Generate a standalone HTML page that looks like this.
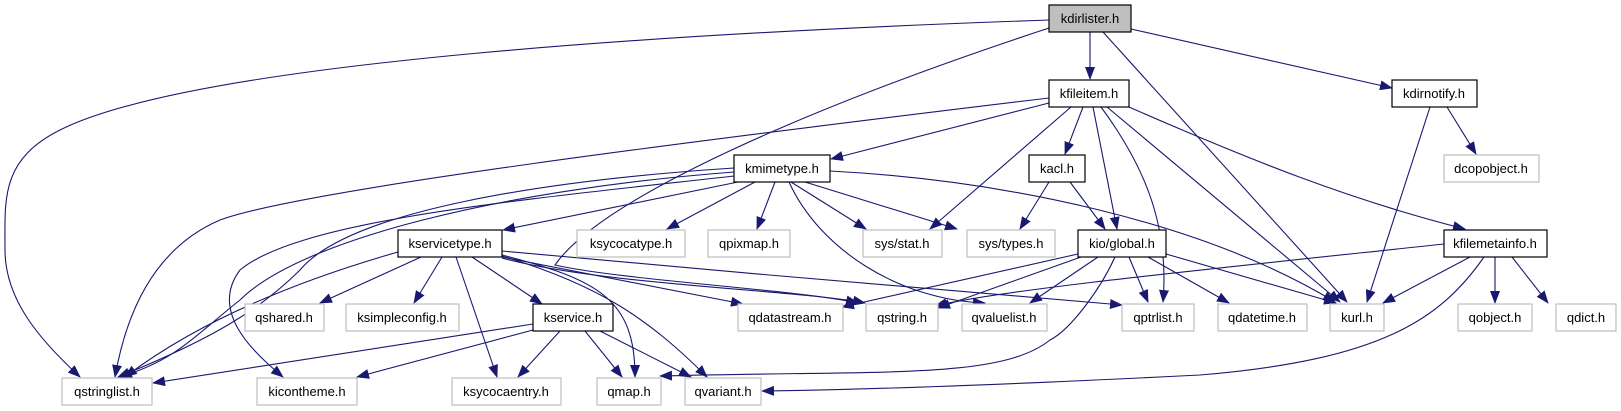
<!DOCTYPE html>
<html><head><meta charset="utf-8"><style>
html,body{margin:0;padding:0;background:#fff;}
svg{display:block;}
text{font-family:"Liberation Sans",sans-serif;font-size:13px;text-anchor:middle;fill:#000;}
.n{fill:#fff;stroke:#000;stroke-width:1.2;}
.g{fill:#fff;stroke:#bfbfbf;stroke-width:1.2;}
.e{fill:none;stroke:#191970;stroke-width:1.1;marker-end:url(#a);}
</style></head><body>
<svg width="1621" height="411" viewBox="0 0 1621 411" xmlns="http://www.w3.org/2000/svg">
<defs><marker id="a" markerWidth="13" markerHeight="10" refX="12" refY="5" orient="auto" markerUnits="userSpaceOnUse"><path d="M0,0 L13,5 L0,10 z" fill="#191970"/></marker></defs>
<g>
<path class="e" d="M1049,20 C700,32 200,60 60,130 C0,160 5,200 5,250 C5,300 40,340 80,377"/>
<path class="e" d="M1049,28 C800,110 600,200 555,265 C620,280 800,290 858,303"/>
<path class="e" d="M1090,32 L1090,79"/>
<path class="e" d="M1103,32 L1347,302"/>
<path class="e" d="M1131,29 L1392,88"/>
<path class="e" d="M1049,98 C700,140 300,190 220,220 C150,250 125,320 115,377"/>
<path class="e" d="M1049,103 L831,159"/>
<path class="e" d="M1071,107 L930,229"/>
<path class="e" d="M1083,107 L1065,154"/>
<path class="e" d="M1093,107 L1117,229"/>
<path class="e" d="M1101,107 C1140,160 1170,220 1163,302"/>
<path class="e" d="M1107,107 L1340,302"/>
<path class="e" d="M1129,107 C1250,160 1350,200 1465,229"/>
<path class="e" d="M1430,107 L1367,302"/>
<path class="e" d="M1447,107 L1476,154"/>
<path class="e" d="M734,172 C500,190 300,240 240,300 C190,340 175,360 120,377"/>
<path class="e" d="M734,168 C550,180 350,210 300,270 C260,310 210,340 118,377"/>
<path class="e" d="M734,176 C520,200 300,220 240,270 C210,310 250,350 283,377"/>
<path class="e" d="M738,182 L503,230"/>
<path class="e" d="M755,182 L667,229"/>
<path class="e" d="M775,182 L757,229"/>
<path class="e" d="M791,182 L866,229"/>
<path class="e" d="M805,182 L957,229"/>
<path class="e" d="M789,182 C820,250 900,300 985,303"/>
<path class="e" d="M830,171 C1000,180 1200,220 1335,302"/>
<path class="e" d="M1049,182 L1020,229"/>
<path class="e" d="M1070,182 L1105,229"/>
<path class="e" d="M398,252 C300,280 200,320 125,377"/>
<path class="e" d="M421,257 L320,303"/>
<path class="e" d="M442,257 L414,303"/>
<path class="e" d="M456,257 L497,377"/>
<path class="e" d="M472,257 L542,304"/>
<path class="e" d="M502,257 L743,304"/>
<path class="e" d="M502,258 C600,285 800,290 865,303"/>
<path class="e" d="M502,251 C700,270 950,290 1122,305"/>
<path class="e" d="M502,255 C600,280 635,300 635,377"/>
<path class="e" d="M502,256 C600,285 650,320 707,377"/>
<path class="e" d="M1078,254 L842,307"/>
<path class="e" d="M1081,257 L938,308"/>
<path class="e" d="M1098,257 L1030,303"/>
<path class="e" d="M1115,257 C1100,290 1070,330 1050,340 C1000,380 880,370 660,376"/>
<path class="e" d="M1129,257 L1148,302"/>
<path class="e" d="M1148,257 L1229,303"/>
<path class="e" d="M1166,254 L1336,303"/>
<path class="e" d="M1444,244 C1200,270 1000,290 935,306"/>
<path class="e" d="M1470,257 L1383,303"/>
<path class="e" d="M1495,257 L1495,303"/>
<path class="e" d="M1512,257 L1548,303"/>
<path class="e" d="M1484,257 C1440,320 1380,360 1200,375 C1000,385 850,390 762,391"/>
<path class="e" d="M533,324 L153,383"/>
<path class="e" d="M533,330 L357,377"/>
<path class="e" d="M560,331 L518,377"/>
<path class="e" d="M585,331 L622,377"/>
<path class="e" d="M600,331 L691,377"/>
</g>
<rect x="1049" y="5" width="82" height="27" fill="#bfbfbf" stroke="#000" stroke-width="1.2"/><text x="1090" y="23">kdirlister.h</text>
<rect class="n" x="1049" y="80" width="80" height="27"/><text x="1089" y="98">kfileitem.h</text>
<rect class="n" x="1392" y="80" width="85" height="27"/><text x="1434" y="98">kdirnotify.h</text>
<rect class="n" x="734" y="155" width="96" height="27"/><text x="782" y="173">kmimetype.h</text>
<rect class="n" x="1029" y="155" width="56" height="27"/><text x="1057" y="173">kacl.h</text>
<rect class="g" x="1444" y="155" width="95" height="27"/><text x="1491" y="173">dcopobject.h</text>
<rect class="n" x="398" y="230" width="104" height="27"/><text x="450" y="248">kservicetype.h</text>
<rect class="g" x="577" y="230" width="108" height="27"/><text x="631" y="248">ksycocatype.h</text>
<rect class="g" x="708" y="230" width="82" height="27"/><text x="749" y="248">qpixmap.h</text>
<rect class="g" x="863" y="230" width="79" height="27"/><text x="902" y="248">sys/stat.h</text>
<rect class="g" x="967" y="230" width="88" height="27"/><text x="1011" y="248">sys/types.h</text>
<rect class="n" x="1078" y="230" width="88" height="27"/><text x="1122" y="248">kio/global.h</text>
<rect class="n" x="1444" y="230" width="103" height="27"/><text x="1495" y="248">kfilemetainfo.h</text>
<rect class="g" x="245" y="304" width="79" height="27"/><text x="284" y="322">qshared.h</text>
<rect class="g" x="346" y="304" width="113" height="27"/><text x="402" y="322">ksimpleconfig.h</text>
<rect class="n" x="533" y="304" width="80" height="27"/><text x="573" y="322">kservice.h</text>
<rect class="g" x="738" y="304" width="105" height="27"/><text x="790" y="322">qdatastream.h</text>
<rect class="g" x="866" y="304" width="72" height="27"/><text x="902" y="322">qstring.h</text>
<rect class="g" x="962" y="304" width="85" height="27"/><text x="1004" y="322">qvaluelist.h</text>
<rect class="g" x="1122" y="304" width="72" height="27"/><text x="1158" y="322">qptrlist.h</text>
<rect class="g" x="1218" y="304" width="89" height="27"/><text x="1262" y="322">qdatetime.h</text>
<rect class="g" x="1330" y="304" width="54" height="27"/><text x="1357" y="322">kurl.h</text>
<rect class="g" x="1458" y="304" width="74" height="27"/><text x="1495" y="322">qobject.h</text>
<rect class="g" x="1556" y="304" width="60" height="27"/><text x="1586" y="322">qdict.h</text>
<rect class="g" x="62" y="378" width="90" height="27"/><text x="107" y="396">qstringlist.h</text>
<rect class="g" x="257" y="378" width="100" height="27"/><text x="307" y="396">kicontheme.h</text>
<rect class="g" x="452" y="378" width="109" height="27"/><text x="506" y="396">ksycocaentry.h</text>
<rect class="g" x="597" y="378" width="64" height="27"/><text x="629" y="396">qmap.h</text>
<rect class="g" x="685" y="378" width="76" height="27"/><text x="723" y="396">qvariant.h</text>
</svg>
</body></html>
